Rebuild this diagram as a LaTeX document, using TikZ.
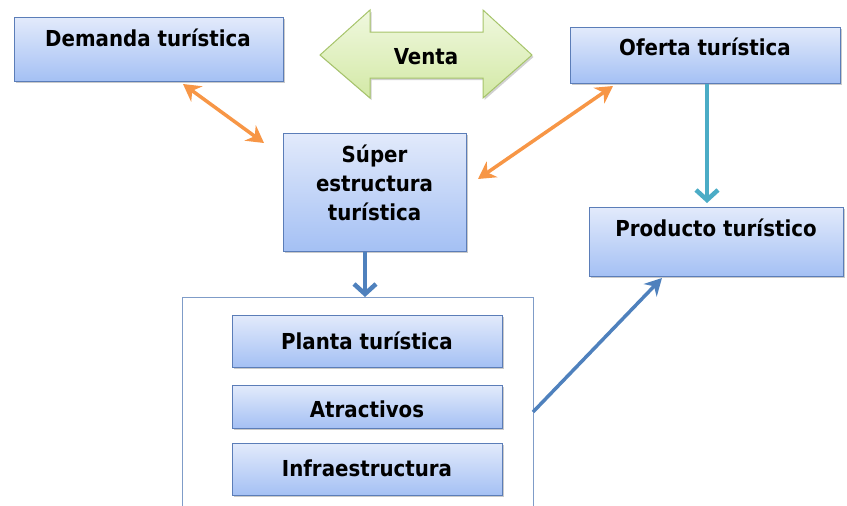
\documentclass[tikz,border=0pt]{standalone}
\usepackage{fontspec}
\setmainfont{DejaVu Sans Condensed}
\usetikzlibrary{arrows.meta,shadows}
\definecolor{boxtop}{HTML}{E2EAFB}
\definecolor{boxbot}{HTML}{A4C0F4}
\definecolor{boxline}{HTML}{5B7DB8}
\definecolor{grtop}{HTML}{F0F8DF}
\definecolor{grbot}{HTML}{D3E9A6}
\definecolor{grline}{HTML}{A6C46A}
\definecolor{orangeA}{HTML}{F79646}
\definecolor{tealA}{HTML}{4BACC6}
\definecolor{blueA}{HTML}{4F81BD}
\definecolor{frameline}{HTML}{7F9CC8}
\tikzset{
  bluebox/.style={draw=boxline, line width=0.9pt, top color=boxtop, bottom color=boxbot,
    drop shadow={shadow xshift=1.5pt, shadow yshift=-2pt, opacity=0.35, fill=black!60}},
  lbl/.style={font=\bfseries\fontsize{22}{29}\selectfont, text=black, align=center, inner sep=0pt},
  orangearrow/.style={draw=orangeA, line width=3.5pt, {Stealth[length=17pt,width=19pt]}-{Stealth[length=17pt,width=19pt]}},
  bluearrow/.style={draw=blueA, line width=3.5pt, -{Stealth[length=17pt,width=18pt]}},
  barbarrow/.style={line width=4.5pt, -{Straight Barb[length=10pt,width=22pt,line width=4.5pt]}}
}
\begin{document}
\begin{tikzpicture}[x=1pt,y=-1pt]
\useasboundingbox (0,0) rectangle (847,506);
\begin{scope}
\clip (0,0) rectangle (847,506);
% outer frame
\draw[draw=frameline, line width=1pt] (182,520) -- (182,297) -- (533,297) -- (533,520);
\coordinate (frametop) at (365,297);
\coordinate (frameright) at (533,412);

% boxes
\node[bluebox, minimum width=269pt, minimum height=64pt, anchor=north west] (dem) at (14,17) {};
\node[lbl] (demT) at (148,38) {Demanda turística};

\node[bluebox, minimum width=270pt, minimum height=56pt, anchor=north west] (ofe) at (570,27) {};
\node[lbl] (ofeT) at (705,47) {Oferta turística};

\node[bluebox, minimum width=254pt, minimum height=69pt, anchor=north west] (pro) at (589,207) {};
\node[lbl] (proT) at (716,228) {Producto turístico};

\node[bluebox, minimum width=183pt, minimum height=118pt, anchor=north west] (sup) at (283,133) {};
\node[lbl] (supT) at (374.5,183) {Súper\\estructura\\turística};

\node[bluebox, minimum width=270pt, minimum height=52pt, anchor=north west] (pla) at (232,315) {};
\node[lbl] (plaT) at (367,341) {Planta turística};

\node[bluebox, minimum width=270pt, minimum height=43pt, anchor=north west] (atr) at (232,385) {};
\node[lbl] (atrT) at (367,409) {Atractivos};

\node[bluebox, minimum width=270pt, minimum height=52pt, anchor=north west] (inf) at (232,443) {};
\node[lbl] (infT) at (367,468) {Infraestructura};

% Venta double arrow
\path[draw=grline, line width=1pt, top color=grtop, bottom color=grbot,
  drop shadow={shadow xshift=1.5pt, shadow yshift=-2pt, opacity=0.3, fill=black!60}]
  (320,55) -- (370,10) -- (370,32) -- (483,32) -- (483,10) -- (532,55)
  -- (483,98) -- (483,78) -- (370,78) -- (370,98) -- cycle;
\node[lbl] (venT) at (426,57) {Venta};

% connectors
\coordinate (demA) at (183,84);
\coordinate (supA) at (264,143);
\draw[orangearrow] (demA) -- (supA);
\coordinate (ofeA) at (613,86);
\coordinate (supB) at (478,179);
\draw[orangearrow] (ofeA) -- (supB);
\draw[barbarrow, draw=tealA] (ofe.south -| 707,0) -- (707,203);
\draw[barbarrow, draw=blueA, line width=4pt] (sup.south -| 365,0) -- (frametop);
\coordinate (proA) at (662,278);
\draw[bluearrow] (frameright) -- (proA);
\end{scope}
\end{tikzpicture}
\end{document}
